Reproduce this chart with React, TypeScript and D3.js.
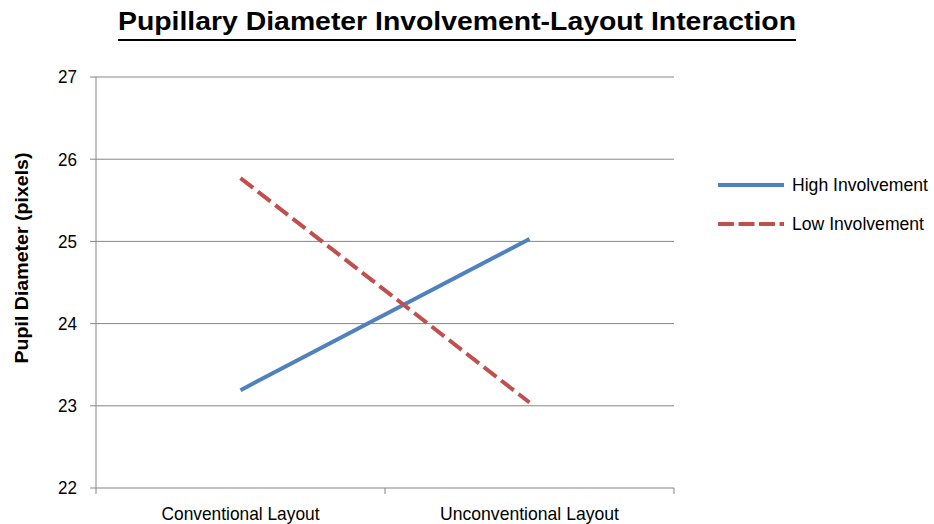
import React from "react";
import * as d3 from "d3";

const categories = ["Conventional Layout", "Unconventional Layout"];
const highInvolvement = [23.19, 25.03];
const lowInvolvement = [25.77, 23.04];
const yTicks = [22, 23, 24, 25, 26, 27];
const seriesNames = ["High Involvement", "Low Involvement"];
const seriesColors = ["#4F81BD", "#C0504D"];

const W = 934;
const H = 524;
const FONT = "'Liberation Sans', Arial, sans-serif";

const catLengths = [158, 179];
const legendLengths = [136, 132];

export default function App() {
  const left = 96, right = 674, top = 77, bottom = 488;
  const x = d3.scaleBand<string>().domain(categories).range([left, right]);
  const y = d3.scaleLinear().domain([22, 27]).range([bottom, top]);
  const line = d3
    .line<number>()
    .x((_, i) => (x(categories[i]) as number) + x.bandwidth() / 2)
    .y((d) => y(d));
  const series = [highInvolvement, lowInvolvement];
  const boundaries = [left, ...categories.map((c) => (x(c) as number) + x.bandwidth())];

  return (
    <svg
      width={W}
      height={H}
      style={{ position: "absolute", left: 0, top: 0, background: "#fff" }}
      fontFamily={FONT}
    >
      <text
        x={118}
        y={30}
        fontSize={25}
        fontWeight="bold"
        fill="#000"
        textLength={678}
        lengthAdjust="spacingAndGlyphs"
      >
        Pupillary Diameter Involvement-Layout Interaction
      </text>
      <line x1={118} x2={796} y1={40} y2={40} stroke="#000" strokeWidth={2} />
      {yTicks.map((t) => (
        <g key={t}>
          <line x1={left} x2={right} y1={y(t)} y2={y(t)} stroke="#868686" strokeWidth={1} />
          <line x1={left - 6} x2={left} y1={y(t)} y2={y(t)} stroke="#868686" strokeWidth={1} />
          <text
            x={77}
            y={y(t)}
            dy="0.36em"
            textAnchor="end"
            fontSize={18}
            fill="#000"
            textLength={19}
            lengthAdjust="spacingAndGlyphs"
          >
            {t}
          </text>
        </g>
      ))}
      <line x1={left} x2={left} y1={top} y2={bottom} stroke="#868686" strokeWidth={1} />
      {boundaries.map((b, i) => (
        <line key={i} x1={b} x2={b} y1={bottom} y2={bottom + 6} stroke="#868686" strokeWidth={1} />
      ))}
      {categories.map((c, i) => (
        <text
          key={c}
          x={(x(c) as number) + x.bandwidth() / 2}
          y={520}
          textAnchor="middle"
          fontSize={19}
          fill="#000"
          textLength={catLengths[i]}
          lengthAdjust="spacingAndGlyphs"
        >
          {c}
        </text>
      ))}
      <text
        transform={`translate(28,258) rotate(-90)`}
        textAnchor="middle"
        fontSize={19}
        fontWeight="bold"
        fill="#000"
        textLength={211}
        lengthAdjust="spacingAndGlyphs"
      >
        Pupil Diameter (pixels)
      </text>
      {series.map((s, i) => (
        <path
          key={i}
          d={line(s) || ""}
          fill="none"
          stroke={seriesColors[i]}
          strokeWidth={4}
          strokeDasharray={i === 1 ? "16,6" : undefined}
        />
      ))}
      {seriesNames.map((n, i) => (
        <g key={n}>
          <line
            x1={718}
            x2={784}
            y1={185 + i * 39}
            y2={185 + i * 39}
            stroke={seriesColors[i]}
            strokeWidth={4}
            strokeDasharray={i === 1 ? "16,4.5" : undefined}
          />
          <text
            x={792}
            y={185 + i * 39}
            dy="0.36em"
            fontSize={18}
            fill="#000"
            textLength={legendLengths[i]}
            lengthAdjust="spacingAndGlyphs"
          >
            {n}
          </text>
        </g>
      ))}
    </svg>
  );
}
